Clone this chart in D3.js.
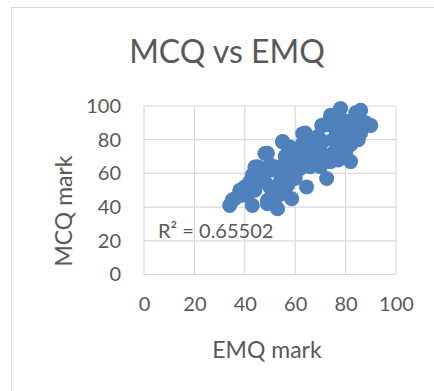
<!DOCTYPE html>
<html>
<head>
<meta charset="utf-8">
<script src="https://cdn.jsdelivr.net/npm/d3@7/dist/d3.min.js"></script>
<style>
  html, body { margin: 0; padding: 0; background: #fff; }
  svg { display: block; }
  text { font-family: Lato, "Open Sans", sans-serif; fill: #595959; }
</style>
</head>
<body>
<svg id="chart" width="434" height="391"></svg>
<script>
// Student marks: EMQ mark (x) against MCQ mark (y)
const emq = [34, 35, 38, 40, 43, 45, 49, 49, 53, 52.6, 58.6, 55, 64.5, 72.5, 64, 78, 86, 90, 74, 82, 85, 71,
  58, 48, 55, 63, 70.5, 44, 41, 42, 44, 45, 47, 43, 48, 50, 50, 49, 51, 52, 53, 54, 54, 55, 56, 57, 56, 57,
  59, 60, 60, 61, 62, 62, 63, 64, 65, 65, 66, 66, 67, 68, 68, 69, 70, 70, 71, 72, 73, 74, 75, 75, 76, 77,
  77, 77, 78, 78, 79, 79, 80, 80, 81, 82, 82, 80, 83, 84, 84, 86, 86, 88, 85, 80, 76, 73, 67, 63, 61, 59,
  57, 55, 51, 48, 42, 39, 36, 79.8];
const mcq = [41, 44, 50, 52, 41, 64, 72, 44, 39, 46, 45, 79, 52, 57, 84, 98.5, 97.5, 88.5, 94.5, 67, 80, 88.5,
  75.7, 71.8, 78.6, 83.6, 88.5, 63.8, 47, 55, 50, 58, 62, 59, 61, 65, 52, 42, 48, 64, 63, 55, 50, 64, 70, 60,
  48, 53, 72, 62, 57, 72, 72, 63, 78, 70, 66, 75, 78, 64, 72, 68, 77, 82, 64, 73, 79, 70, 90, 67, 80, 72,
  86, 68, 75, 92, 82, 69, 88, 78, 91, 71, 84, 77, 90, 71, 86, 96, 82, 88, 84, 90, 91, 91, 95, 89, 80, 66,
  72, 64, 72, 57, 62, 55, 52, 47, 45, 70.8];
const xTicks = [0, 20, 40, 60, 80, 100];
const yTicks = [0, 20, 40, 60, 80, 100];
const chartTitle = "MCQ vs EMQ";
const xTitle = "EMQ mark";
const yTitle = "MCQ mark";
const rSquared = "R² = 0.65502";

const svg = d3.select("#chart");

// chart frame
svg.append("rect")
  .attr("x", 11.5).attr("y", 7.5)
  .attr("width", 440).attr("height", 400)
  .attr("fill", "#fff").attr("stroke", "#d9d9d9").attr("stroke-width", 1);

const x = d3.scaleLinear().domain([0, 100]).range([144, 396]);
const y = d3.scaleLinear().domain([0, 100]).range([274.5, 106]);

// gridlines
const grid = svg.append("g").attr("stroke", "#d9d9d9").attr("stroke-width", 1.2);
grid.selectAll("line.v").data(xTicks).join("line")
  .attr("class", "v")
  .attr("x1", d => x(d)).attr("x2", d => x(d))
  .attr("y1", y(0)).attr("y2", y(100));
grid.selectAll("line.h").data(yTicks).join("line")
  .attr("class", "h")
  .attr("x1", x(0)).attr("x2", x(100))
  .attr("y1", d => y(d)).attr("y2", d => y(d));

// axes (labels only)
const xAxis = svg.append("g")
  .attr("transform", `translate(0,${y(0)})`)
  .call(d3.axisBottom(x).tickValues(xTicks).tickSize(0).tickPadding(22));
xAxis.select(".domain").remove();
xAxis.selectAll("text").attr("font-size", 20).attr("fill", "#595959")
  .style("font-family", "Lato, sans-serif");

const yAxis = svg.append("g")
  .attr("transform", `translate(${x(0)},0)`)
  .call(d3.axisLeft(y).tickValues(yTicks).tickSize(0).tickPadding(23));
yAxis.select(".domain").remove();
yAxis.selectAll("text").attr("font-size", 20).attr("fill", "#595959")
  .style("font-family", "Lato, sans-serif");

// points
svg.append("g").selectAll("circle")
  .data(emq.map((e, i) => [e, mcq[i]]))
  .join("circle")
  .attr("cx", d => x(d[0]))
  .attr("cy", d => y(d[1]))
  .attr("r", 7.5)
  .attr("fill", "#4f81bd");

// titles
svg.append("text")
  .attr("x", 227).attr("y", 63)
  .attr("text-anchor", "middle")
  .attr("font-size", 32)
  .text(chartTitle);

svg.append("text")
  .attr("x", 267).attr("y", 358)
  .attr("text-anchor", "middle")
  .attr("font-size", 23)
  .text(xTitle);

svg.append("text")
  .attr("transform", "translate(72,211) rotate(-90)")
  .attr("text-anchor", "middle")
  .attr("font-size", 23)
  .text(yTitle);

svg.append("text")
  .attr("x", 158).attr("y", 238)
  .attr("font-size", 20)
  .text(rSquared);
</script>
</body>
</html>
